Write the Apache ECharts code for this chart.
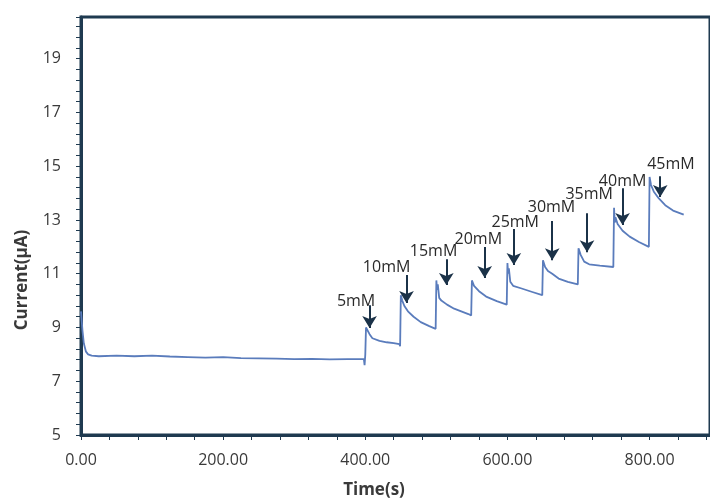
<!DOCTYPE html>
<html>
<head>
<meta charset="utf-8">
<script src="https://cdn.jsdelivr.net/npm/echarts@6/dist/echarts.min.js"></script>
<style>
  html, body { margin: 0; padding: 0; background: #fff; }
  #chart { width: 710px; height: 500px; }
</style>
</head>
<body>
<div id="chart"></div>
<script>
// time (s) and current (μA)
var times = [0, 2, 4, 7, 10, 15, 25, 50, 75, 100, 125, 150, 175, 200, 225, 250, 275, 300, 325, 350, 375, 398,
  399, 400, 401, 403, 406, 410, 420, 430, 440, 448,
  449, 450, 452, 455, 460, 468, 478, 490, 499,
  500, 501, 502, 504, 507, 515, 525, 535, 545, 549,
  550, 553, 560, 570, 585, 599,
  600, 601, 602, 604, 608, 620, 635, 649,
  650, 653, 657, 663, 672, 685, 699,
  700, 703, 708, 715, 730, 749,
  750, 751, 752, 755, 762, 772, 785, 799,
  800, 802, 806, 813, 822, 833, 848]
var current = [9.6, 8.9, 8.4, 8.1, 8.0, 7.95, 7.93, 7.95, 7.93, 7.95, 7.92, 7.9, 7.88, 7.9, 7.86, 7.85, 7.84, 7.82, 7.83, 7.81, 7.82, 7.82,
  7.6, 8.0, 9.0, 8.95, 8.75, 8.6, 8.5, 8.45, 8.42, 8.38,
  8.3, 10.2, 10.0, 9.8, 9.6, 9.4, 9.2, 9.05, 8.95,
  10.75, 10.4, 10.6, 10.1, 10.0, 9.85, 9.7, 9.6, 9.5, 9.45,
  10.75, 10.55, 10.35, 10.15, 9.98, 9.85,
  11.4, 11.0, 11.2, 10.7, 10.55, 10.45, 10.32, 10.2,
  11.5, 11.25, 11.1, 11.0, 10.82, 10.7, 10.6,
  11.95, 11.7, 11.45, 11.35, 11.3, 11.25,
  13.45, 12.9, 13.1, 12.85, 12.6, 12.38, 12.18, 12.0,
  14.6, 14.3, 14.05, 13.8, 13.55, 13.35, 13.2]

// additions marked with arrows
var doses = ['5mM', '10mM', '15mM', '20mM', '25mM', '30mM', '35mM', '40mM', '45mM']
var arrowT = [406, 458, 514, 568, 609, 663, 712, 762, 815]
var arrowTop = [9.83, 10.95, 11.54, 11.99, 12.66, 12.96, 13.25, 14.18, 14.63]
var arrowTip = [8.98, 9.91, 10.58, 10.84, 11.32, 11.5, 11.8, 12.81, 13.85]
var labelT = [387, 430, 496, 559, 611, 662, 715, 762, 830]
var labelY = [9.98, 11.25, 11.84, 12.29, 12.92, 13.48, 13.96, 14.44, 15.07]

var frame = '#1f3a50'
var textColor = '#3a3a3a'
var font = '"Open Sans", "Noto Sans", sans-serif'

var chart = echarts.init(document.getElementById('chart'))

var linePts = times.map(function (t, i) { return [t, current[i]] })
var arrows = doses.map(function (d, i) {
  return [{ coord: [arrowT[i], arrowTop[i]] }, { coord: [arrowT[i], arrowTip[i]] }]
})
var labels = doses.map(function (d, i) {
  return { name: d, coord: [labelT[i], labelY[i]] }
})

chart.setOption({
  animation: false,
  grid: {
    left: 81,
    top: 17,
    right: -5,
    bottom: 65,
    show: true,
    borderColor: frame,
    borderWidth: 3
  },
  xAxis: {
    type: 'value',
    min: 0,
    max: 885,
    interval: 200,
    axisLine: { lineStyle: { color: frame, width: 3 } },
    axisTick: { length: 5, lineStyle: { color: frame, width: 1 } },
    minorTick: { show: true, splitNumber: 5, length: 5, lineStyle: { color: frame, width: 1 } },
    splitLine: { show: false },
    axisLabel: {
      margin: 17,
      color: textColor,
      fontFamily: font,
      fontSize: 16,
      showMaxLabel: false,
      formatter: function (v) { return v.toFixed(2) }
    }
  },
  yAxis: {
    type: 'value',
    min: 5,
    max: 20.55,
    interval: 2,
    axisLine: { lineStyle: { color: frame, width: 3 } },
    axisTick: { length: 5, lineStyle: { color: frame, width: 1 } },
    minorTick: { show: true, splitNumber: 5, length: 5, lineStyle: { color: frame, width: 1 } },
    splitLine: { show: false },
    axisLabel: {
      margin: 20,
      color: textColor,
      fontFamily: font,
      fontSize: 16,
      showMaxLabel: false
    }
  },
  graphic: [
    {
      type: 'text',
      x: 22,
      y: 280,
      rotation: Math.PI / 2,
      style: {
        text: 'Current(μA)',
        fill: textColor,
        font: 'bold 17px ' + font,
        textAlign: 'center',
        textVerticalAlign: 'middle'
      }
    },
    {
      type: 'text',
      x: 374,
      y: 490,
      style: {
        text: 'Time(s)',
        fill: textColor,
        font: 'bold 17px ' + font,
        textAlign: 'center',
        textVerticalAlign: 'middle'
      }
    }
  ],
  series: [
    {
      type: 'line',
      data: linePts,
      showSymbol: false,
      smooth: false,
      lineStyle: { color: '#5a7cbc', width: 1.8 },
      markLine: {
        silent: true,
        symbol: ['none', 'arrow'],
        symbolSize: [11, 12],
        label: { show: false },
        lineStyle: { color: '#1b3248', width: 2, type: 'solid' },
        data: arrows
      },
      markPoint: {
        silent: true,
        symbol: 'circle',
        symbolSize: 0,
        label: {
          show: true,
          position: 'inside',
          formatter: '{b}',
          color: '#2a2a2a',
          fontFamily: font,
          fontSize: 16
        },
        data: labels
      }
    }
  ]
})
</script>
</body>
</html>
